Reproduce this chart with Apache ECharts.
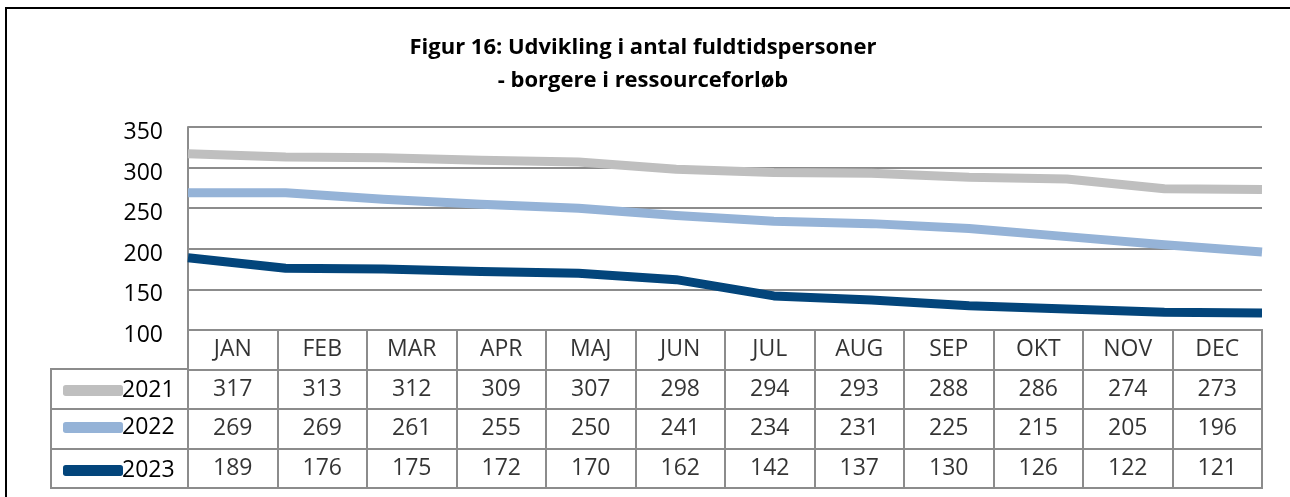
<!DOCTYPE html>
<html lang="da">
<head>
    <meta charset="UTF-8">
    <title>Figur 16</title>
    <style>
        html, body {
            margin: 0;
            padding: 0;
            width: 100%;
            height: 100%;
            overflow: hidden;
            background: #fff;
        }
        #chart {
            width: 1290px;
            height: 497px;
        }
    </style>
</head>
<body>
<div id="chart"></div>
<script src="https://cdn.jsdelivr.net/npm/echarts@6/dist/echarts.min.js"></script>
<script>
    // data
    var months = ['JAN', 'FEB', 'MAR', 'APR', 'MAJ', 'JUN', 'JUL', 'AUG', 'SEP', 'OKT', 'NOV', 'DEC'];
    var years = ['2021', '2022', '2023'];
    var v2021 = [317, 313, 312, 309, 307, 298, 294, 293, 288, 286, 274, 273];
    var v2022 = [269, 269, 261, 255, 250, 241, 234, 231, 225, 215, 205, 196];
    var v2023 = [189, 176, 175, 172, 170, 162, 142, 137, 130, 126, 122, 121];
    var yTicks = { min: 100, max: 350, step: 50 };

    var colors = ['#bfbfbf', '#95b3d7', '#03457b'];
    var gridColor = '#8c8c8c';
    var font = 'Open Sans';
    var fs = 23;

    var seriesValues = [v2021, v2022, v2023];

    // rækker i tabellen
    var headRow = months.map(function (m, i) {
        return { value: [i, 0], label: { formatter: m } };
    });
    var bodyRows = [];
    seriesValues.forEach(function (vals, r) {
        vals.forEach(function (v, i) {
            bodyRows.push({ value: [i, r + 1], label: { formatter: String(v) } });
        });
    });

    var lineSeries = years.map(function (y, k) {
        return {
            name: y,
            type: 'line',
            xAxisIndex: 0,
            yAxisIndex: 0,
            data: seriesValues[k],
            symbol: 'none',
            z: 3 + k,
            color: colors[k],
            lineStyle: { width: 9, color: colors[k], cap: 'butt', join: 'round' }
        };
    });

    var rowCenters = [387, 424, 467];
    var legends = years.map(function (y, k) {
        return {
            data: [y],
            left: 58,
            top: rowCenters[k] - 13,
            icon: 'roundRect',
            itemWidth: 60,
            itemHeight: 11,
            selectedMode: false,
            textStyle: { fontFamily: font, fontSize: fs, color: '#000', padding: [0, 0, 0, -6] }
        };
    });

    var option = {
        animation: false,
        backgroundColor: '#fff',
        title: {
            text: 'Figur 16: Udvikling i antal fuldtidspersoner\n- borgere i ressourceforløb',
            left: 638,
            top: 26,
            textAlign: 'center',
            textStyle: {
                fontFamily: font,
                fontSize: 22,
                fontWeight: 'bold',
                color: '#000',
                lineHeight: 33
            }
        },
        legend: legends,
        graphic: [{
            type: 'rect',
            shape: { x: 6, y: 8, width: 1320, height: 520 },
            style: { fill: 'none', stroke: '#000', lineWidth: 2 },
            silent: true
        }],
        grid: [
            { left: 188, top: 127, width: 1074, height: 203 },
            { left: 188, top: 330, width: 1074, height: 158, show: true, borderColor: gridColor, borderWidth: 2 },
            { left: 51, top: 369, width: 137, height: 119, show: true, borderColor: gridColor, borderWidth: 2 }
        ],
        xAxis: [{
            gridIndex: 0,
            type: 'category',
            data: months,
            boundaryGap: false,
            axisLabel: { show: false },
            axisTick: { show: false },
            axisLine: { lineStyle: { color: gridColor, width: 2 } }
        }, {
            gridIndex: 1,
            type: 'category',
            data: months,
            boundaryGap: true,
            axisLabel: { show: false },
            axisTick: { show: false },
            axisLine: { show: false },
            splitLine: { show: true, lineStyle: { color: gridColor, width: 2 } }
        }, {
            gridIndex: 2,
            type: 'value',
            show: false
        }],
        yAxis: [{
            gridIndex: 0,
            type: 'value',
            min: yTicks.min,
            max: yTicks.max,
            interval: yTicks.step,
            axisLine: { show: true, lineStyle: { color: gridColor, width: 2 } },
            axisTick: { show: false },
            splitLine: { lineStyle: { color: gridColor, width: 2 } },
            axisLabel: {
                fontFamily: font,
                fontSize: fs,
                color: '#000',
                margin: 25,
                verticalAlign: 'top',
                lineHeight: 11
            }
        }, {
            gridIndex: 1,
            type: 'category',
            data: ['', '2021', '2022', '2023'],
            inverse: true,
            axisLabel: { show: false },
            axisTick: { show: false },
            axisLine: { show: false },
            splitLine: { show: true, lineStyle: { color: gridColor, width: 2 } }
        }, {
            gridIndex: 2,
            type: 'category',
            data: years,
            inverse: true,
            axisLabel: { show: false },
            axisTick: { show: false },
            axisLine: { show: false },
            splitLine: { show: true, lineStyle: { color: gridColor, width: 2 } }
        }],
        series: lineSeries.concat([{
            type: 'scatter',
            xAxisIndex: 1,
            yAxisIndex: 1,
            symbolSize: 0,
            silent: true,
            data: headRow.concat(bodyRows),
            label: {
                show: true,
                position: 'inside',
                fontFamily: font,
                fontSize: fs,
                color: '#000'
            }
        }])
    };

    var chart = echarts.init(document.getElementById('chart'));
    chart.setOption(option);
</script>
</body>
</html>
